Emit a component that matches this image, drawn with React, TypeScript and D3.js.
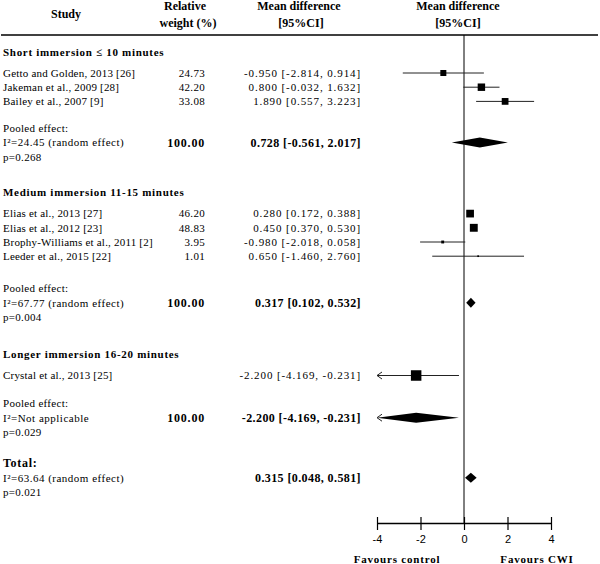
import { useEffect, useRef } from 'react';
import * as d3 from 'd3';

// Study level data
const studyNames = [
  'Getto and Golden, 2013 [26]',
  'Jakeman et al., 2009 [28]',
  'Bailey et al., 2007 [9]',
  'Elias et al., 2013 [27]',
  'Elias et al., 2012 [23]',
  'Brophy-Williams et al., 2011 [2]',
  'Leeder et al., 2015 [22]',
  'Crystal et al., 2013 [25]',
];
const studyGroup = [0, 0, 0, 1, 1, 1, 1, 2];
const studyWeights: (number | null)[] = [24.73, 42.2, 33.08, 46.2, 48.83, 3.95, 1.01, null];
const studyMeans = [-0.95, 0.8, 1.89, 0.28, 0.45, -0.98, 0.65, -2.2];
const studyLow = [-2.814, -0.032, 0.557, 0.172, 0.37, -2.018, -1.46, -4.169];
const studyHigh = [0.914, 1.632, 3.223, 0.388, 0.53, 0.058, 2.76, -0.231];

// Subgroup pooled effects
const groupNames = [
  'Short immersion ≤ 10 minutes',
  'Medium immersion 11-15 minutes',
  'Longer immersion 16-20 minutes',
];
const pooledI2 = ['I²=24.45 (random effect)', 'I²=67.77 (random effect)', 'I²=Not applicable'];
const pooledP = ['p=0.268', 'p=0.004', 'p=0.029'];
const pooledWeights = [100, 100, 100];
const pooledMeans = [0.728, 0.317, -2.2];
const pooledLow = [-0.561, 0.102, -4.169];
const pooledHigh = [2.017, 0.532, -0.231];

// Overall
const totalI2 = 'I²=63.64 (random effect)';
const totalP = 'p=0.021';
const totalMean = 0.315;
const totalLow = 0.048;
const totalHigh = 0.581;

const xTicks = [-4, -2, 0, 2, 4];

const SERIF = '"Liberation Serif", "Times New Roman", serif';
const SANS = '"Liberation Sans", Arial, sans-serif';

export default function App() {
  const svgRef = useRef<SVGSVGElement>(null);

  useEffect(() => {
    if (!svgRef.current) return;
    const width = 600;
    const height = 564;

    d3.select(svgRef.current).selectAll('*').remove();
    const svg = d3
      .select(svgRef.current)
      .attr('width', width)
      .attr('height', height)
      .attr('viewBox', `0 0 ${width} ${height}`);

    const x = d3.scaleLinear().domain([-4, 4]).range([377, 551]);
    const size = d3.scalePow().exponent(0.4).domain([0, 100]).range([0, 10.5]);
    const axisY = 523;
    const ruleY = 35;

    const fmt = (v: number) => v.toFixed(3);
    const ci = (m: number, l: number, h: number) => `${fmt(m)} [${fmt(l)}, ${fmt(h)}]`;

    // vertical layout (row centres)
    const rowStep = 14.2;
    const lineStep = 14.5;
    const headerGap = 21;
    const pooledGap = [26.5, 32, 27.7];
    const sectionGap = [35.7, 37.3, 31];

    const text = (
      t: string,
      px: number,
      py: number,
      opts: { anchor?: string; bold?: boolean; size?: number; ls?: number; font?: string } = {},
    ) =>
      svg
        .append('text')
        .attr('x', px)
        .attr('y', py)
        .attr('dy', '0.35em')
        .attr('text-anchor', opts.anchor ?? 'start')
        .attr('font-family', opts.font ?? SERIF)
        .attr('font-size', opts.size ?? 11)
        .attr('font-weight', opts.bold ? 'bold' : 'normal')
        .attr('letter-spacing', opts.ls ?? 0)
        .attr('fill', '#000')
        .text(t);

    // Header
    text('Study', 66, 13.5, { anchor: 'middle', bold: true, size: 12 });
    text('Relative', 185, 6, { anchor: 'middle', bold: true, size: 12 });
    text('weight (%)', 188, 23, { anchor: 'middle', bold: true, size: 12 });
    text('Mean difference', 299, 6, { anchor: 'middle', bold: true, size: 12 });
    text('[95%CI]', 301, 23, { anchor: 'middle', bold: true, size: 12 });
    text('Mean difference', 458, 6, { anchor: 'middle', bold: true, size: 12 });
    text('[95%CI]', 458, 23, { anchor: 'middle', bold: true, size: 12 });

    svg
      .append('line')
      .attr('x1', 1)
      .attr('x2', 598)
      .attr('y1', ruleY)
      .attr('y2', ruleY)
      .attr('stroke', '#000')
      .attr('stroke-width', 1.5);

    // zero line
    svg
      .append('line')
      .attr('x1', x(0))
      .attr('x2', x(0))
      .attr('y1', ruleY)
      .attr('y2', axisY)
      .attr('stroke', '#000')
      .attr('stroke-width', 1);

    const marks = svg.append('g');

    const arrow = (cy: number) => {
      const ax = x(-4);
      marks
        .append('path')
        .attr('d', `M${ax + 5},${cy - 3.5}L${ax},${cy}L${ax + 5},${cy + 3.5}`)
        .attr('fill', 'none')
        .attr('stroke', '#222')
        .attr('stroke-width', 1);
    };

    const ciLine = (l: number, h: number, cy: number) => {
      marks
        .append('line')
        .attr('x1', x(Math.max(l, -4)))
        .attr('x2', x(Math.min(h, 4)))
        .attr('y1', cy)
        .attr('y2', cy)
        .attr('stroke', '#222')
        .attr('stroke-width', 1);
      if (l < -4) arrow(cy);
    };

    const diamond = (m: number, l: number, h: number, cy: number) => {
      const lo = Math.max(l, -4);
      const hi = Math.min(h, 4);
      const hh = 5;
      marks
        .append('path')
        .attr('d', `M${x(lo)},${cy}L${x(m)},${cy - hh}L${x(hi)},${cy}L${x(m)},${cy + hh}Z`)
        .attr('fill', '#000');
      if (l < -4) arrow(cy);
    };

    let y = 52;
    groupNames.forEach((g, gi) => {
      text(g, 3, y, { bold: true, ls: 0.7 });
      y += headerGap - rowStep;
      studyNames.forEach((name, i) => {
        if (studyGroup[i] !== gi) return;
        y += rowStep;
        text(name, 3, y, { ls: 0.2 });
        const w = studyWeights[i];
        if (w !== null) text(w.toFixed(2), 205, y, { anchor: 'end', ls: 0.3 });
        text(ci(studyMeans[i], studyLow[i], studyHigh[i]), 361, y, { anchor: 'end', ls: 0.9 });
        ciLine(studyLow[i], studyHigh[i], y);
        const s = size(w ?? 100);
        marks
          .append('rect')
          .attr('x', x(studyMeans[i]) - s / 2)
          .attr('y', y - s / 2)
          .attr('width', s)
          .attr('height', s)
          .attr('fill', '#000');
      });
      y += pooledGap[gi];
      text('Pooled effect:', 3, y, { ls: 0.3 });
      y += lineStep;
      text(pooledI2[gi], 3, y, { ls: 0.5 });
      text(pooledWeights[gi].toFixed(2), 205, y, { anchor: 'end', bold: true, size: 12, ls: 0.8 });
      text(ci(pooledMeans[gi], pooledLow[gi], pooledHigh[gi]), 361, y, {
        anchor: 'end',
        bold: true,
        size: 12,
        ls: 0.4,
      });
      diamond(pooledMeans[gi], pooledLow[gi], pooledHigh[gi], y);
      y += lineStep;
      text(pooledP[gi], 3, y, { ls: 0.3 });
      y += sectionGap[gi];
    });

    // Total
    text('Total:', 3, y, { bold: true, size: 12, ls: 0.7 });
    y += lineStep;
    text(totalI2, 3, y, { ls: 0.5 });
    text(ci(totalMean, totalLow, totalHigh), 361, y, { anchor: 'end', bold: true, size: 12, ls: 0.4 });
    diamond(totalMean, totalLow, totalHigh, y);
    y += lineStep;
    text(totalP, 3, y, { ls: 0.3 });

    // Axis
    const axis = svg
      .append('g')
      .attr('transform', `translate(0,${axisY})`)
      .call(d3.axisBottom(x).tickValues(xTicks).tickSizeOuter(0).tickFormat((d) => String(d)));
    axis.select('.domain').attr('stroke', '#000').attr('stroke-width', 1.5);
    axis.selectAll('.tick line').attr('y1', -6).attr('y2', 7).attr('stroke', '#000').attr('stroke-width', 1.2);
    axis
      .selectAll('.tick text')
      .attr('y', 12)
      .attr('font-family', SANS)
      .attr('font-size', 11)
      .attr('fill', '#000');

    text('Favours control', 397, 559, { anchor: 'middle', bold: true, ls: 0.8 });
    text('Favours CWI', 537, 559, { anchor: 'middle', bold: true, ls: 0.8 });
  }, []);

  return (
    <svg
      ref={svgRef}
      style={{ position: 'absolute', left: 0, top: 0, background: '#fff', display: 'block' }}
    />
  );
}
